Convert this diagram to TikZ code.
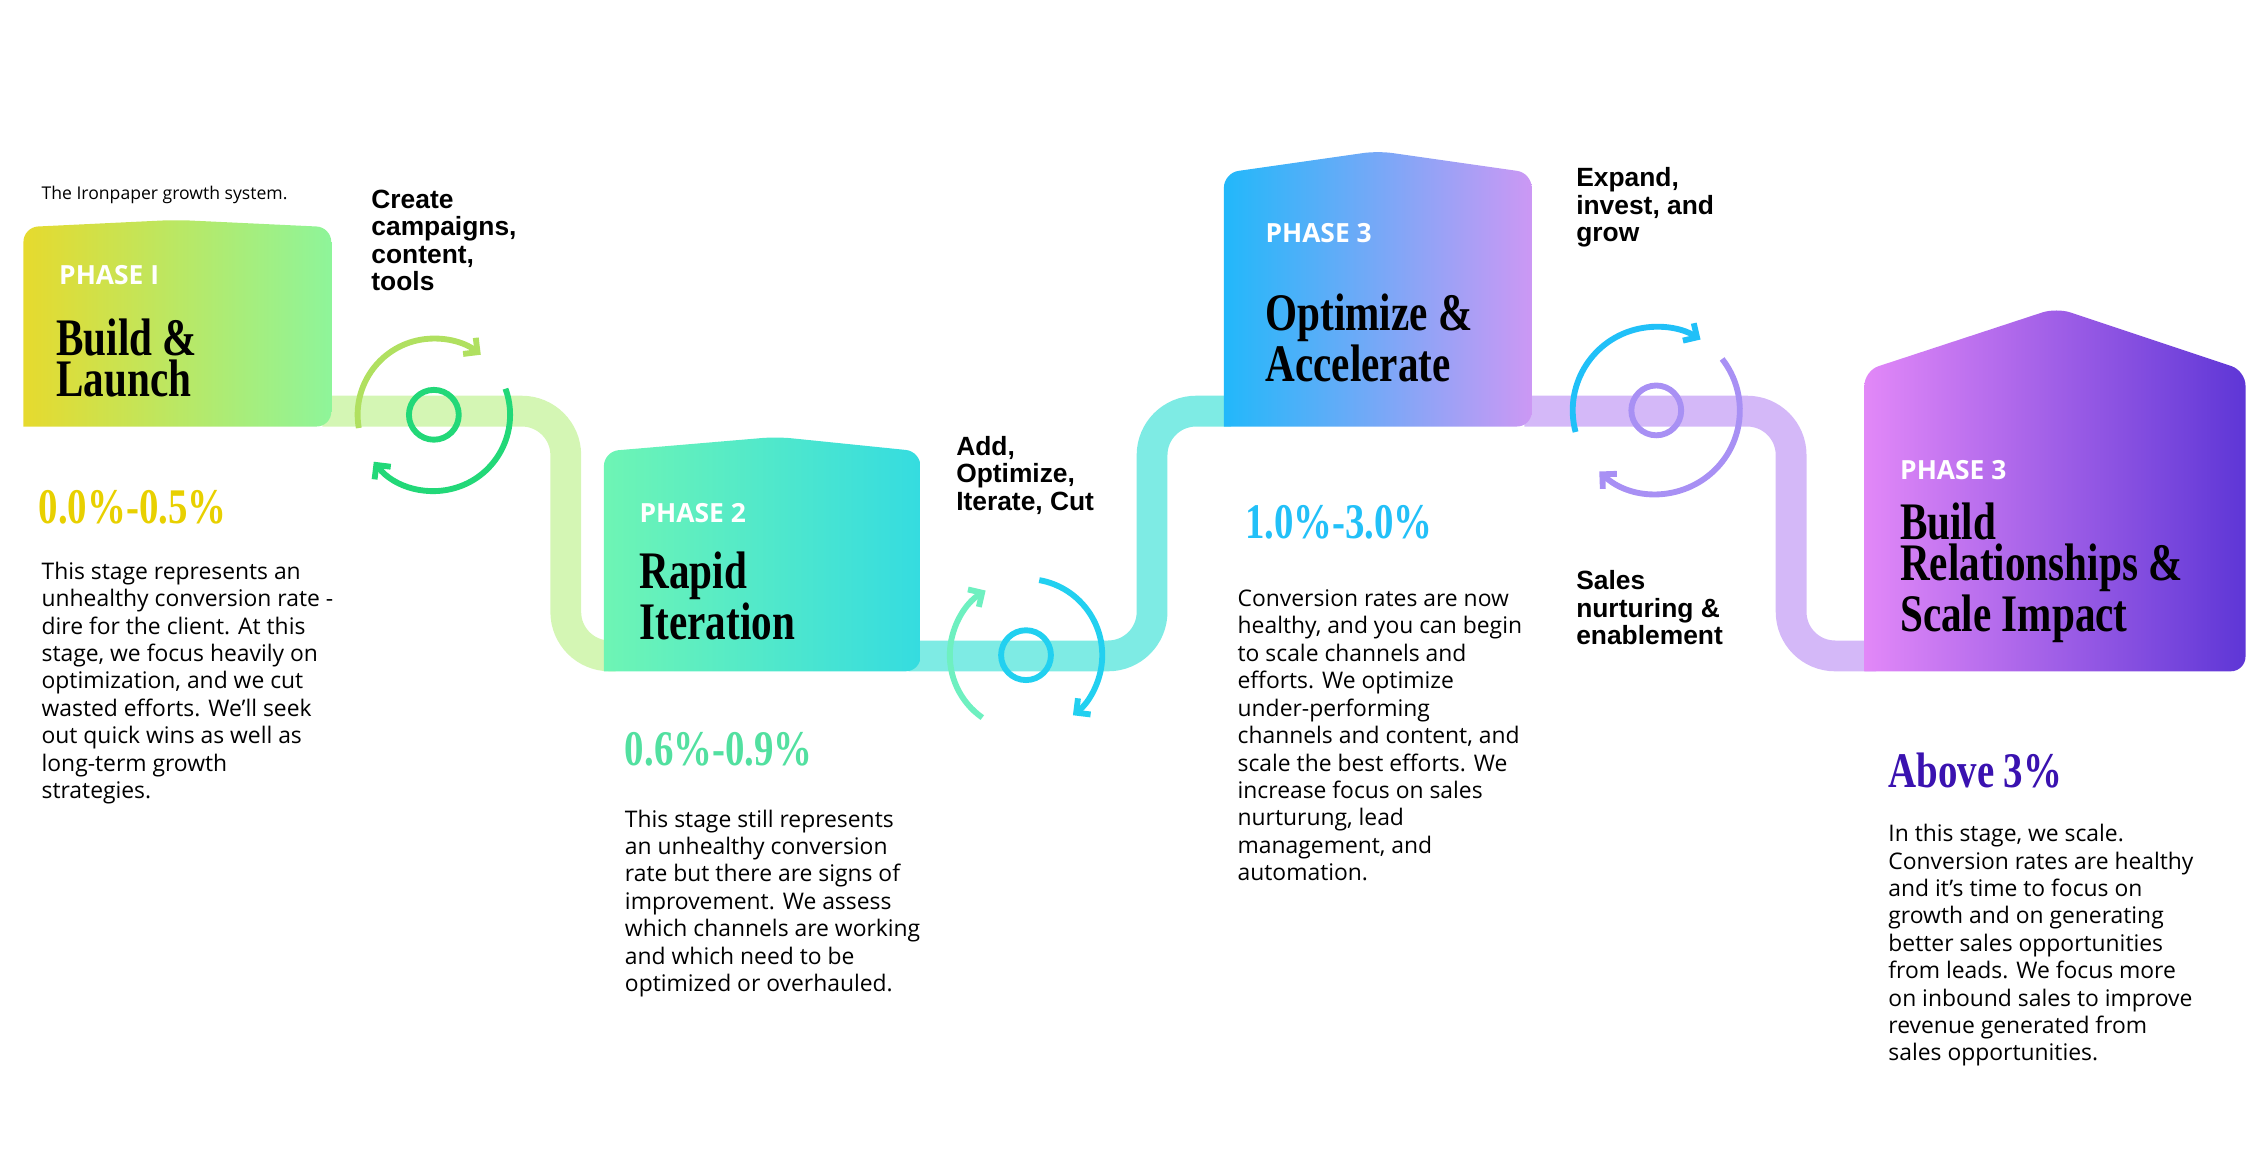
\documentclass[tikz,border=0pt]{standalone}
\usepackage{fontspec}
\setmainfont{Open Sans}
\newfontfamily\labf{Liberation Sans}
\newfontfamily\titf[FakeStretch=0.78]{Liberation Serif}
\usetikzlibrary{arrows.meta,calc}
\definecolor{yel}{HTML}{E6DA2E}
\definecolor{lgr}{HTML}{8EF59A}
\definecolor{g2a}{HTML}{6EF5B4}
\definecolor{g2b}{HTML}{35DCE0}
\definecolor{b3a}{HTML}{22B8FA}
\definecolor{b3b}{HTML}{CC98F4}
\definecolor{p4a}{HTML}{E288F8}
\definecolor{p4b}{HTML}{5E36D6}
\definecolor{t1}{HTML}{D4F6B4}
\definecolor{t2}{HTML}{7EEBE4}
\definecolor{t3}{HTML}{D4B8F8}
\definecolor{pc1}{HTML}{E8D000}
\definecolor{pc2}{HTML}{52E0A0}
\definecolor{pc3}{HTML}{22C0F8}
\definecolor{pc4}{HTML}{3A12B0}
\definecolor{c1}{HTML}{22D878}\definecolor{c1b}{HTML}{B0E060}
\definecolor{c2}{HTML}{6EF0C0}\definecolor{c2b}{HTML}{22D0F0}
\definecolor{c3}{HTML}{20C0F8}\definecolor{c3b}{HTML}{A890F4}
\begin{document}
\begin{tikzpicture}[x=0.5pt,y=-0.5pt,
  track/.style={line width=10.5pt,rounded corners=15pt},
  phase/.style={anchor=west,text=white,font=\bfseries\fontsize{9}{10}\selectfont,inner sep=0},
  ttl/.style={anchor=north west,align=left,inner sep=0,font=\titf\bfseries\fontsize{18}{14}\selectfont},
  lab/.style={anchor=north west,align=left,inner sep=0,font=\labf\bfseries\fontsize{9}{9.4}\selectfont},
  pct/.style={anchor=west,inner sep=0,font=\titf\bfseries\fontsize{17}{16}\selectfont},
  body/.style={anchor=north west,align=left,inner sep=0,font=\fontsize{7.8}{9.35}\selectfont},
  cyc/.style={line width=2pt,-{Straight Barb[length=3.5pt,width=7pt]}},
  hub/.style={line width=2pt}]
\useasboundingbox (0,0) rectangle (1546,801);
% track
\draw[track,t1] (220,280.5) -- (386,280.5) -- (386,447.5) -- (420,447.5);
\draw[track,t2] (620,447.5) -- (786,447.5) -- (786,280.5) -- (840,280.5);
\draw[track,t3] (1040,280.5) -- (1222,280.5) -- (1222,447.5) -- (1280,447.5);
% boxes
\shade[left color=yel,right color=lgr,rounded corners=5pt] (16,291) -- (16,155) -- (120,150) -- (226,155) -- (226,291) [sharp corners] -- cycle;
\shade[left color=g2a,right color=g2b,rounded corners=5pt] (412,458) -- (412,308) -- (530,298) -- (628,308) -- (628,458) [sharp corners] -- cycle;
\shade[left color=b3a,right color=b3b,rounded corners=5pt] (835,291) -- (835,118) -- (940,103) -- (1045,118) -- (1045,291) [sharp corners] -- cycle;
\shade[left color=p4a,right color=p4b,rounded corners=5pt] (1272,458) -- (1272,253) -- (1403,210) -- (1532,253) -- (1532,458) [sharp corners] -- cycle;
\node[anchor=west,inner sep=0,font=\fontsize{6}{7}\selectfont] (cap) at (28,133) {The Ironpaper growth system.};
% box texts
\node[phase] (ph1) at (40,188) {PHASE I};
\node[ttl] (ti1) at (38,217) {Build \&\\Launch};
\node[phase] (ph2) at (436,350) {PHASE 2};
\node[ttl] (ti2) at (436,376) {Rapid\\Iteration};
\node[phase] (ph3) at (863,159) {PHASE 3};
\node[ttl] (ti3) at (863,200) {Optimize \&\\Accelerate};
\node[phase] (ph4) at (1296,321) {PHASE 3};
\node[ttl] (ti4) at (1296,343) {Build\\Relationships \&\\Scale Impact};
% cycles
\coordinate (k1) at (296,283);
\coordinate (k2) at (700,447);
\coordinate (k3) at (1130,280);
\draw[hub,c1] (k1) circle[radius=8.5pt];
\draw[cyc,c1b] ($(k1)+(190:26pt)$) arc[start angle=190,end angle=52,radius=26pt];
\draw[cyc,c1] ($(k1)+(20:26pt)$) arc[start angle=20,end angle=-142,radius=26pt];
\draw[hub,c2b] (k2) circle[radius=8.5pt];
\draw[cyc,c2] ($(k2)+(235:26pt)$) arc[start angle=235,end angle=122,radius=26pt];
\draw[cyc,c2b] ($(k2)+(80:26pt)$) arc[start angle=80,end angle=-52,radius=26pt];
\draw[hub,c3b] (k3) circle[radius=8.5pt];
\draw[cyc,c3] ($(k3)+(195:28.5pt)$) arc[start angle=195,end angle=58,radius=28.5pt];
\draw[cyc,c3b] ($(k3)+(38:28.5pt)$) arc[start angle=38,end angle=-133,radius=28.5pt];
% labels
\node[lab] (l1) at (253,129) {Create\\campaigns,\\content,\\tools};
\node[lab] (l2) at (652,297) {Add,\\Optimize,\\Iterate, Cut};
\node[lab] (l3) at (1075,114) {Expand,\\invest, and\\grow};
\node[lab] (l4) at (1075,389) {Sales\\nurturing \&\\enablement};
% percentages
\node[pct,pc1] (p1) at (26,346) {0.0\%-0.5\%};
\node[pct,pc2] (p2) at (426,511) {0.6\%-0.9\%};
\node[pct,pc3] (p3) at (849,356) {1.0\%-3.0\%};
\node[pct,pc4] (p4) at (1288,526) {Above 3\%};
% bodies
\node[body] (b1) at (28,383) {This stage represents an\\unhealthy conversion rate -\\dire for the client. At this\\stage, we focus heavily on\\optimization, and we cut\\wasted efforts. We'll seek\\out quick wins as well as\\long-term growth\\strategies.};
\node[body] (b2) at (426,552) {This stage still represents\\an unhealthy conversion\\rate but there are signs of\\improvement. We assess\\which channels are working\\and which need to be\\optimized or overhauled.};
\node[body] (b3) at (844,402) {Conversion rates are now\\healthy, and you can begin\\to scale channels and\\efforts. We optimize\\under-performing\\channels and content, and\\scale the best efforts. We\\increase focus on sales\\nurturung, lead\\management, and\\automation.};
\node[body] (b4) at (1288,562) {In this stage, we scale.\\Conversion rates are healthy\\and it's time to focus on\\growth and on generating\\better sales opportunities\\from leads. We focus more\\on inbound sales to improve\\revenue generated from\\sales opportunities.};
\end{tikzpicture}
\end{document}
